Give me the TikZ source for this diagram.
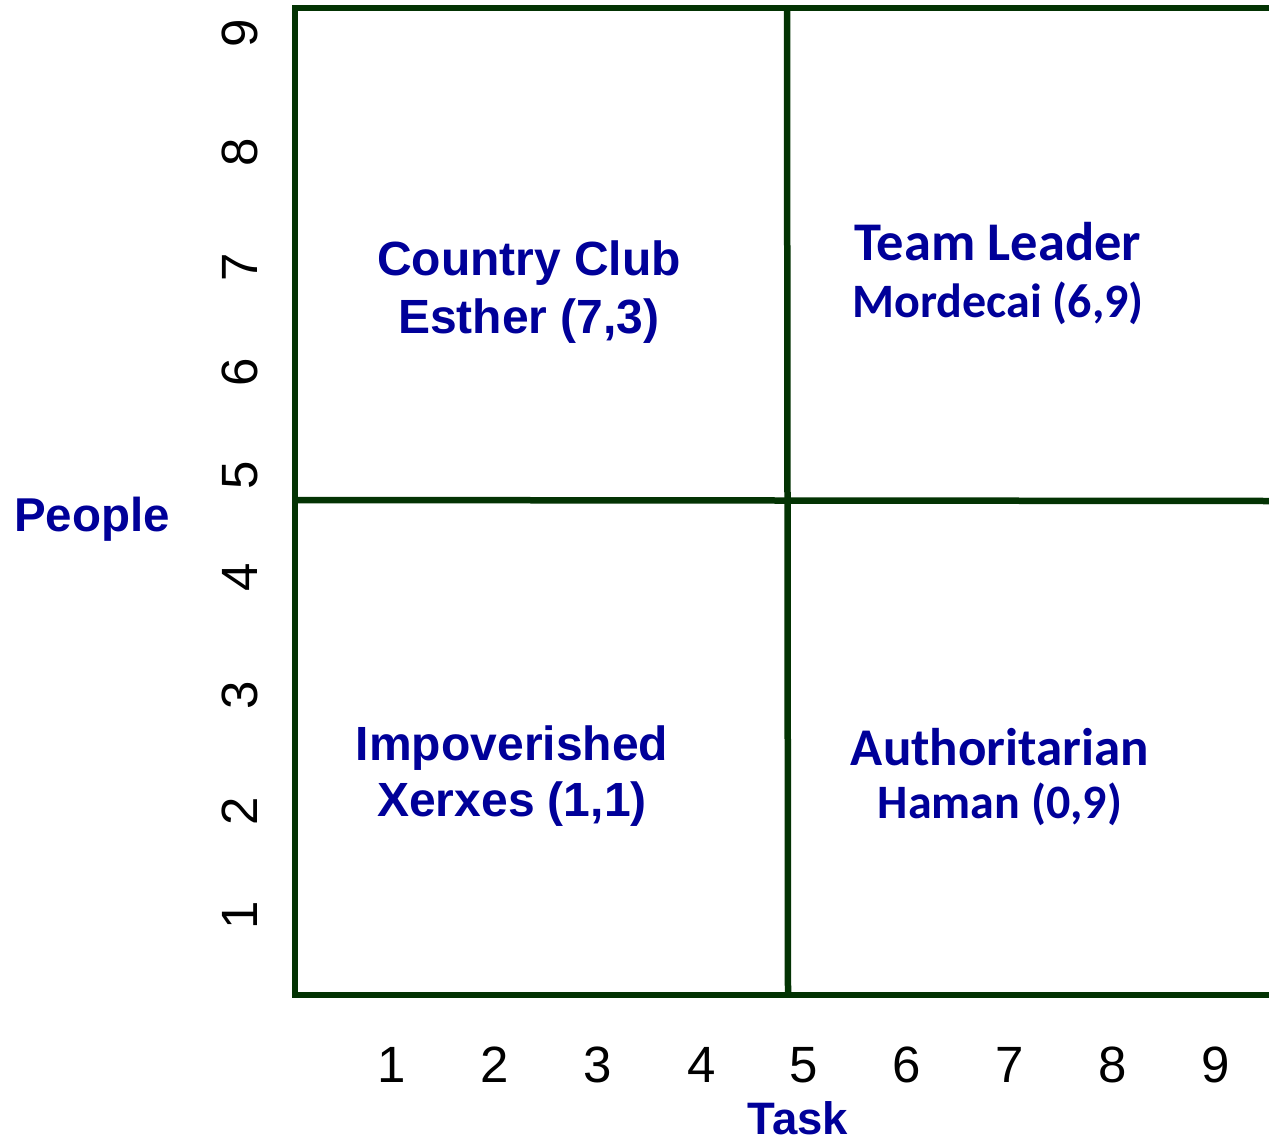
\documentclass[tikz,border=0pt]{standalone}
\usepackage{fontspec}
\setmainfont{Liberation Sans}
\newfontfamily\calibri{Carlito}
\definecolor{gridgreen}{RGB}{3,51,3}
\definecolor{labelblue}{RGB}{0,0,153}

\begin{document}
\begin{tikzpicture} [x=1pt, y=-1pt, quadline/.style={draw=gridgreen, line width=6.5pt}, quadtitle/.style={anchor=base, inner sep=0pt, text=labelblue, font=\fontsize{48}{56}\selectfont\bfseries}, quadname/.style={quadtitle}, rtitle/.style={quadtitle, font=\fontsize{54.5}{62}\selectfont\calibri\bfseries}, rname/.style={quadtitle, font=\fontsize{48}{56}\selectfont\calibri\bfseries}, tick/.style={inner sep=0pt, font=\fontsize{51}{60}\selectfont}]
  \useasboundingbox (0,0) rectangle (1269,1141);
  %% Grid
  \coordinate (tl) at (295,8);
  \coordinate (bl) at (295,995);
  \draw [quadline, line cap=rect] (1272,8) -- (tl) -- (bl) -- (1272,995);
  \draw [quadline] (295,500) -- (1272,501);
  \draw [quadline] (787,8) -- (788,995);
  % Axis ticks
  \foreach \n/\x in {1/392, 2/495, 3/598, 4/702, 5/804, 6/907, 7/1010, 8/1113, 9/1216}
    \node [tick, anchor=base] (xt\n) at (\x,1082) {\n};
  \foreach \n/\y in {1/915, 2/811, 3/695, 4/577, 5/475, 6/372, 7/267, 8/152, 9/33}
    \node [tick, rotate=90] (yt\n) at (240,\y) {\n};
  % Axis labels
  \node [quadtitle, font=\fontsize{47.5}{56}\selectfont\bfseries] (people) at (92,531) {People};
  \node [quadtitle, font=\fontsize{45.5}{56}\selectfont\bfseries] (task) at (798,1134) {Task};
  % Quadrants
  \node [quadtitle] (club) at (529,275) {Country Club};
  \node [quadname] (esther) at (529,333) {Esther (7,3)};
  \node [rtitle] (team) at (998,260) {Team Leader};
  \node [rname] (mordecai) at (998,317) {Mordecai (6,9)};
  \node [quadtitle] (impov) at (512,760) {Impoverished};
  \node [quadname] (xerxes) at (512,816) {Xerxes (1,1)};
  \node [rtitle, font=\fontsize{53}{62}\selectfont\calibri\bfseries] (auth) at (1000,765) {Authoritarian};
  \node [rname] (haman) at (1000,818) {Haman (0,9)};
\end{tikzpicture}
\end{document}
